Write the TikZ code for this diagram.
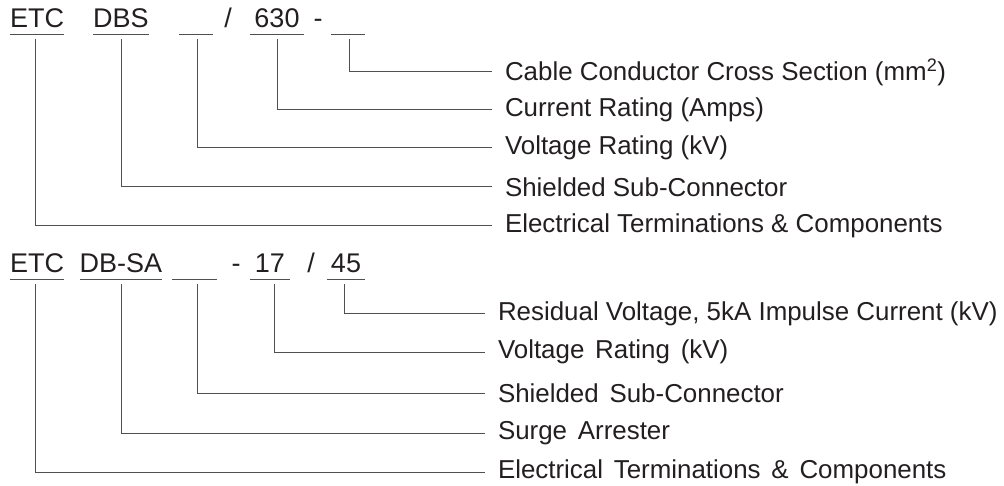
\documentclass[tikz,border=0pt]{standalone}
\usepackage{fontspec}
\setmainfont{Liberation Sans}
\definecolor{ink}{HTML}{231F20}
\definecolor{wire}{HTML}{505050}
\newcommand\widespaces{\spaceskip=10.8pt\relax}
\begin{document}
\begin{tikzpicture}[x=1pt,y=-1pt,
  code/.style={anchor=base,inner sep=0pt,text depth=7pt,outer ysep=4pt,font=\fontsize{27}{27}\selectfont,text=ink},
  lab/.style={anchor=west,inner xsep=0pt,outer xsep=13pt,inner ysep=0pt,font=\fontsize{25.9}{25.9}\selectfont,text=ink},
  labwide/.style={lab,execute at begin node=\widespaces},
  sep/.style={anchor=base,inner sep=0pt,font=\fontsize{27}{27}\selectfont,text=ink},
  uline/.style={draw=wire,line width=1pt},
  conn/.style={draw=wire,line width=1pt}]
\useasboundingbox (0,0) rectangle (1004,486);
% ---------- first code ----------
\node[code,minimum width=54pt] (a1) at (37,28) {ETC};
\node[code,minimum width=54pt] (a2) at (121,28) {DBS};
\node[code,minimum width=34pt] (a3) at (196,28) {\strut};
\node[sep] (s1) at (228,28) {/};
\node[code,minimum width=54pt] (a4) at (277,28) {630};
\node[sep] (s2) at (318,28) {-};
\node[code,minimum width=34pt] (a5) at (348,28) {\strut};
\foreach \n in {a1,a2,a3,a4,a5}
  \draw[uline] ([yshift=4pt]\n.south west) -- ([yshift=4pt]\n.south east);
\node[lab] (b5) at (492,72) {Cable Conductor Cross Section (mm\textsuperscript{2})};
\node[lab] (b4) at (492,110) {Current Rating (Amps)};
\node[lab] (b3) at (492,148) {Voltage Rating (kV)};
\node[lab] (b2) at (492,187) {Shielded Sub-Connector};
\node[lab] (b1) at (492,226) {Electrical Terminations \& Components};
\draw[conn] ([xshift=1pt]a5.south) |- (b5.west);
\draw[conn] (a4.south) |- (b4.west);
\draw[conn] ([xshift=1pt]a3.south) |- (b3.west);
\draw[conn] (a2.south) |- (b2.west);
\draw[conn] ([xshift=-2pt]a1.south) |- (b1.west);
% ---------- second code ----------
\node[code,minimum width=54pt] (c1) at (37,273) {ETC};
\node[code,minimum width=54pt] (c2) at (121,273) {DB-SA};
\node[code,minimum width=45pt] (c3) at (194.5,273) {\strut};
\node[sep] (s3) at (236,273) {-};
\node[code,minimum width=40pt] (c4) at (270,273) {17};
\node[sep] (s4) at (311,273) {/};
\node[code,minimum width=38pt] (c5) at (346,273) {45};
\foreach \n in {c1,c2,c3,c4,c5}
  \draw[uline] ([yshift=4pt]\n.south west) -- ([yshift=4pt]\n.south east);
\node[lab] (d5) at (485,314) {Residual Voltage, 5kA Impulse Current (kV)};
\node[labwide] (d4) at (485,352) {Voltage Rating (kV)};
\node[labwide] (d3) at (485,393) {Shielded Sub-Connector};
\node[labwide] (d2) at (485,433) {Surge Arrester};
\node[labwide] (d1) at (485,472) {Electrical Terminations \& Components};
\draw[conn] ([xshift=-2pt]c5.south) |- (d5.west);
\draw[conn] ([xshift=4pt]c4.south) |- (d4.west);
\draw[conn] ([xshift=2.5pt]c3.south) |- (d3.west);
\draw[conn] (c2.south) |- (d2.west);
\draw[conn] ([xshift=-2pt]c1.south) |- (d1.west);
\end{tikzpicture}
\end{document}
